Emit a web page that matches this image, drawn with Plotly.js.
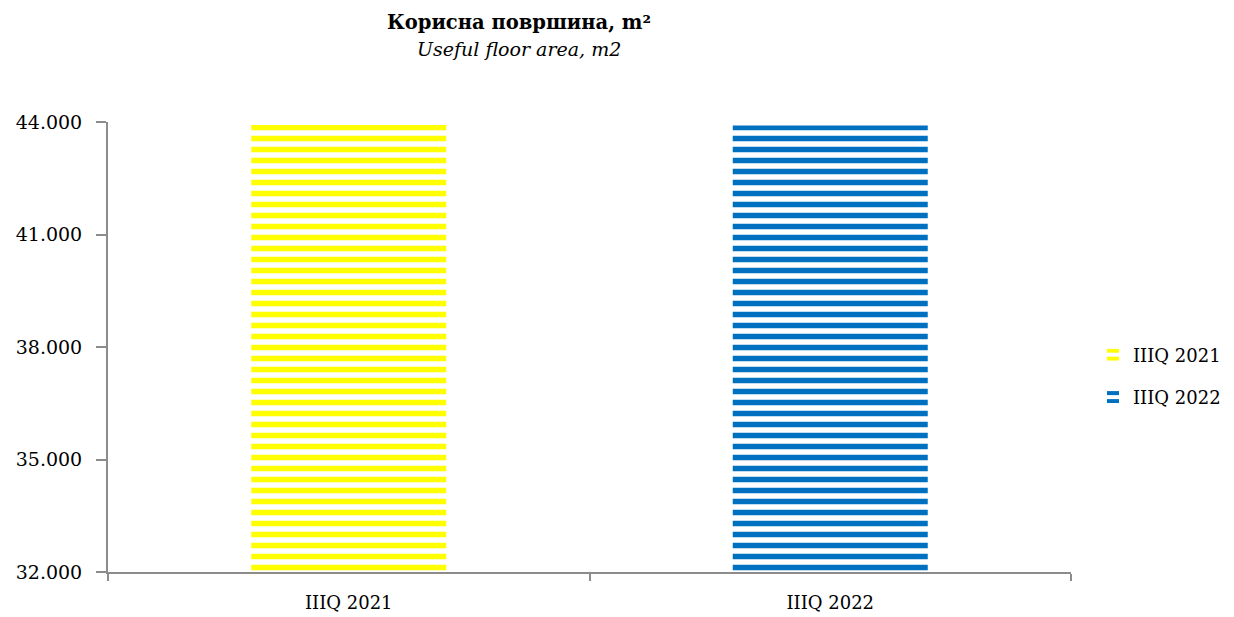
<!DOCTYPE html>
<html><head><meta charset="utf-8">
<script src="https://cdn.plot.ly/plotly-3.0.1.min.js"></script>
<style>body{margin:0;}#chart{width:1234px;height:617px;}</style>
</head><body><div id="chart"></div>
<script>
const categories = ["IIIQ 2021", "IIIQ 2022"];
const seriesNames = ["IIIQ 2021", "IIIQ 2022"];
const values = [43920, 43910];
const colors = ["#FFFF00", "#0070C0"];
const titleMain = 'Корисна површина, m²';
const titleSub = 'Useful floor area, m2';

const traces = seriesNames.map((n, i) => ({
  type: 'bar',
  name: n,
  legendgroup: 'g' + i,
  x: [categories[i]],
  y: [values[i]],
  width: 0.405,
  marker: {color: colors[i], line: {width: 0},
           pattern: {shape: '-', size: 11, solidity: 0.5, fgcolor: colors[i], bgcolor: 'rgba(255,255,255,0)'}},
  hoverinfo: 'x+y'
}));

const FONT = 'DejaVu Serif, Liberation Serif, serif';
const layout = {
  width: 1234, height: 617,
  margin: {l: 108, r: 163, t: 122, b: 45},
  paper_bgcolor: '#fff', plot_bgcolor: '#fff',
  separators: ',.',
  barmode: 'overlay',
  font: {family: FONT, size: 18, color: '#000'},
  annotations: [
    {text: '<b>' + titleMain + '</b>', xref: 'paper', yref: 'paper', x: 0.4268, y: 1.2222,
     xanchor: 'center', yanchor: 'middle', showarrow: false, font: {size: 19.5, family: FONT}},
    {text: '<i>' + titleSub + '</i>', xref: 'paper', yref: 'paper', x: 0.4268, y: 1.1622,
     xanchor: 'center', yanchor: 'middle', showarrow: false, font: {size: 19, family: FONT}}
  ],
  xaxis: {
    type: 'category', categoryorder: 'array', categoryarray: categories,
    showline: true, linecolor: '#8c8c8c', linewidth: 2,
    ticks: 'outside', ticklen: 7, tickwidth: 2, tickcolor: '#8c8c8c',
    tickson: 'boundaries', showgrid: false, zeroline: false,
    ticklabelstandoff: 13,
    tickfont: {size: 18}
  },
  yaxis: {
    range: [32000, 44000], dtick: 3000, tick0: 32000,
    tickformat: ',d',
    showline: true, linecolor: '#8c8c8c', linewidth: 2,
    ticks: 'outside', ticklen: 10, tickwidth: 2, tickcolor: '#8c8c8c',
    showgrid: false, zeroline: false,
    ticklabelstandoff: 10,
    tickfont: {size: 19}
  },
  legend: {
    xref: 'container', yref: 'container',
    x: 1093/1234, xanchor: 'left', y: 1 - 376/617, yanchor: 'middle',
    font: {size: 18}, tracegroupgap: 16, itemwidth: 30
  },
  showlegend: true
};
Plotly.newPlot('chart', traces, layout, {displayModeBar: false, staticPlot: true});
</script></body></html>
